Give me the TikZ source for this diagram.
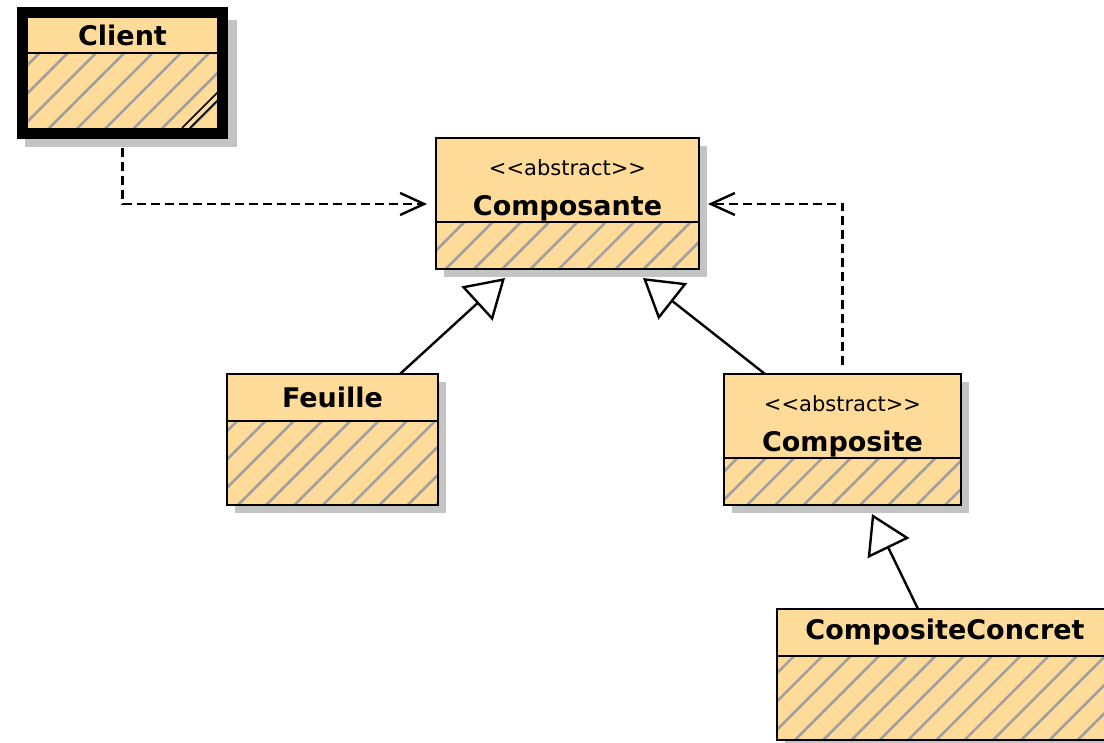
\documentclass[tikz,border=0pt]{standalone}
\usepackage{fontspec}
\setmainfont{DejaVu Sans}
\usetikzlibrary{positioning,arrows.meta,patterns.meta,shadows}
\definecolor{classfill}{RGB}{255,219,153}
\definecolor{hatchgray}{RGB}{160,160,160}
\definecolor{shadowgray}{RGB}{196,196,196}
\newcommand\umlstereo[1]{{\fontsize{21}{21}\selectfont\mdseries <{}<#1>{}>}}

\begin{document}
\begin{tikzpicture}[x=1pt,y=1pt,
  box/.style={draw,line width=2.4pt,fill=classfill,inner sep=0pt,outer sep=0pt,
    font=\fontsize{27}{30}\selectfont\bfseries,align=center,anchor=north west},
  twolines/.style={text height=78pt,text depth=6pt},
  shade/.style={drop shadow={shadow xshift=8pt,shadow yshift=-8pt,fill=shadowgray,opacity=1}},
  hatched/.style={preaction={fill=classfill},
    pattern={Lines[angle=45,distance=20pt,line width=2.6pt]},pattern color=hatchgray},
  dep/.style={dash pattern=on 9pt off 5pt,line width=2.4pt,
    -{Straight Barb[length=24pt,width=22pt,line width=2.4pt]}},
  inh/.style={line width=2.4pt,-{Triangle[open,length=38pt,width=46pt,fill=white]}}]
\useasboundingbox (0,0) rectangle (1104,-743);

% Client
\fill[shadowgray] (25,-20) rectangle (237,-147);
\node[box,minimum width=191pt,minimum height=36pt] (client) at (27,-17) {Client};
\node[box,hatched,below=0pt of client,minimum width=191pt,minimum height=76pt] (clientbody) {};
\draw[line width=10pt] ([shift={(-5pt,5pt)}]client.north west) rectangle ([shift={(5pt,-5pt)}]clientbody.south east);
\draw[line width=1.5pt] (182,-128) -- (218,-92);
\draw[line width=1.5pt] (190,-128) -- (218,-100);

% Composante
\node[box,shade,twolines,minimum width=263pt,minimum height=84pt] (composante) at (436,-138)
  {\umlstereo{abstract}\\[10pt]Composante};
\node[box,shade,hatched,below=0pt of composante,minimum width=263pt,minimum height=47pt] (composantebody) {};

% Feuille
\node[box,shade,minimum width=211pt,minimum height=47pt] (feuille) at (227,-374) {Feuille};
\node[box,shade,hatched,below=0pt of feuille,minimum width=211pt,minimum height=84pt] (feuillebody) {};

% Composite
\node[box,shade,twolines,minimum width=237pt,minimum height=84pt] (composite) at (724,-374)
  {\umlstereo{abstract}\\[10pt]Composite};
\node[box,shade,hatched,below=0pt of composite,minimum width=237pt,minimum height=47pt] (compositebody) {};

% CompositeConcret
\node[box,shade,minimum width=336pt,minimum height=47pt] (concret) at (777,-609) {CompositeConcret};
\node[box,shade,hatched,below=0pt of concret,minimum width=336pt,minimum height=84pt] (concretbody) {};

% liens
\draw[dep] ([yshift=-19pt]clientbody.south) |- ([xshift=-9pt,yshift=-24pt]composante.west);
\draw[dep] ([yshift=9pt]composite.north) |- ([xshift=9pt,yshift=-24pt]composante.east);
\draw[inh] ([xshift=67.5pt]feuille.north) -- ([xshift=-62.5pt,yshift=-9pt]composantebody.south);
\draw[inh] ([xshift=-77.5pt]composite.north) -- ([xshift=75.5pt,yshift=-9pt]composantebody.south);
\draw[inh] ([xshift=-27pt]concret.north) -- ([xshift=29.5pt,yshift=-9pt]compositebody.south);
\end{tikzpicture}
\end{document}
